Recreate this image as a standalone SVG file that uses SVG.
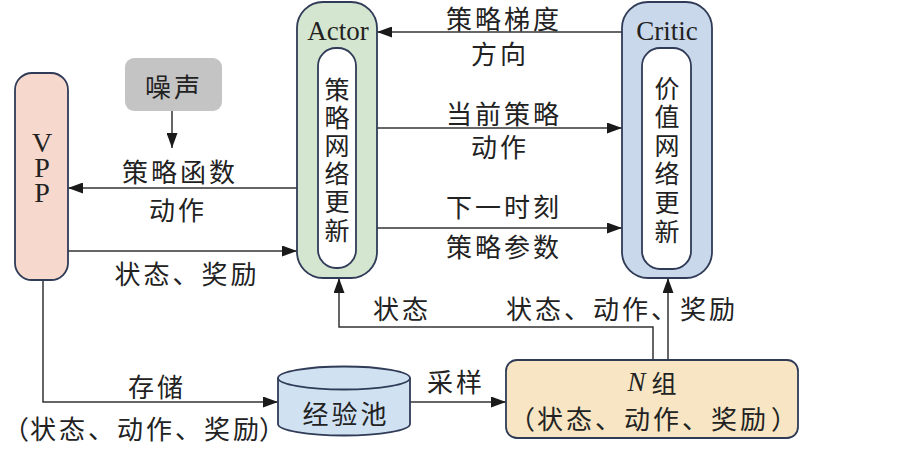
<svg xmlns="http://www.w3.org/2000/svg" width="910" height="472" viewBox="0 0 910 472">
<defs>
<marker id="ah" viewBox="0 0 15 11" refX="15" refY="5.5" markerWidth="15" markerHeight="11" markerUnits="userSpaceOnUse" orient="auto">
<path d="M0,0 L15,5.5 L0,11 Z" fill="#1a1a1a"/>
</marker>
<style>
.box{stroke:#2f3b57;stroke-width:1.8}
.cn{font-family:"Noto Sans CJK SC",sans-serif;font-size:26px;fill:#222;letter-spacing:3px}
.cv{font-family:"Noto Sans CJK SC",sans-serif;font-size:25px;fill:#222}
.lat{font-family:"Liberation Serif",serif;fill:#222}
.arr{fill:none;stroke:#333;stroke-width:1.5;marker-end:url(#ah)}
</style>
</defs>
<rect width="910" height="472" fill="#fff"/>

<g id="connectors">
<line class="arr" x1="172" y1="111" x2="172" y2="148"/>
<line class="arr" x1="297" y1="188" x2="68" y2="188"/>
<line class="arr" x1="68" y1="251" x2="297" y2="251"/>
<line class="arr" x1="622" y1="32" x2="377" y2="32"/>
<line class="arr" x1="377" y1="128" x2="622" y2="128"/>
<line class="arr" x1="377" y1="228" x2="622" y2="228"/>
<polyline class="arr" points="43,280 43,402 278,402"/>
<line class="arr" x1="410" y1="402" x2="506" y2="402"/>
<polyline class="arr" points="653,360 653,327 339,327 339,278"/>
<line class="arr" x1="668" y1="360" x2="668" y2="278"/>
<text class="cn" x="180" y="170" text-anchor="middle" dominant-baseline="central">策略函数</text>
<text class="cn" x="178" y="208" text-anchor="middle" dominant-baseline="central">动作</text>
<text class="cn" x="187" y="272" text-anchor="middle" dominant-baseline="central">状态、奖励</text>
<text class="cn" x="504" y="17" text-anchor="middle" dominant-baseline="central">策略梯度</text>
<text class="cn" x="500" y="52" text-anchor="middle" dominant-baseline="central">方向</text>
<text class="cn" x="504" y="112" text-anchor="middle" dominant-baseline="central">当前策略</text>
<text class="cn" x="500" y="145" text-anchor="middle" dominant-baseline="central">动作</text>
<text class="cn" x="504" y="205" text-anchor="middle" dominant-baseline="central">下一时刻</text>
<text class="cn" x="504" y="245" text-anchor="middle" dominant-baseline="central">策略参数</text>
<text class="cn" x="402" y="307" text-anchor="middle" dominant-baseline="central">状态</text>
<text class="cn" x="506" y="307" dominant-baseline="central">状态、动作、奖励</text>
<text class="cn" x="157" y="385" text-anchor="middle" dominant-baseline="central">存储</text>
<text class="cn" y="427" dominant-baseline="central"><tspan x="3">（</tspan><tspan x="30">状态、动作、奖励</tspan><tspan x="259">）</tspan></text>
<text class="cn" x="456" y="380" text-anchor="middle" dominant-baseline="central">采样</text>
</g>

<g id="noise">
<rect x="125" y="58" width="97" height="53" rx="9" fill="#c4c4c4"/>
<text class="cn" x="174" y="85" text-anchor="middle" dominant-baseline="central">噪声</text>
</g>

<g id="vpp">
<rect class="box" x="15" y="73" width="53" height="207" rx="17" fill="#f6d9cc"/>
<text class="lat" font-size="28" text-anchor="middle"><tspan x="42" y="152">V</tspan><tspan x="42" y="177">P</tspan><tspan x="42" y="202">P</tspan></text>
</g>

<g id="actor">
<rect class="box" x="297" y="2" width="80" height="276" rx="26" fill="#d4e6d0"/>
<text class="lat" font-size="27" x="338" y="40" text-anchor="middle">Actor</text>
<rect class="box" x="318" y="48" width="38" height="220" rx="18" fill="#fff"/>
<text class="cv" text-anchor="middle" dominant-baseline="central"><tspan x="337" y="88">策</tspan><tspan x="337" y="116">略</tspan><tspan x="337" y="144">网</tspan><tspan x="337" y="172">络</tspan><tspan x="337" y="200">更</tspan><tspan x="337" y="229">新</tspan></text>
</g>

<g id="critic">
<rect class="box" x="622" y="2" width="90" height="276" rx="26" fill="#cad8ec"/>
<text class="lat" font-size="27" x="667" y="40" text-anchor="middle">Critic</text>
<rect class="box" x="642" y="48" width="49" height="221" rx="18" fill="#fff"/>
<text class="cv" text-anchor="middle" dominant-baseline="central"><tspan x="667" y="87">价</tspan><tspan x="667" y="115">值</tspan><tspan x="667" y="144">网</tspan><tspan x="667" y="172">络</tspan><tspan x="667" y="201">更</tspan><tspan x="667" y="230">新</tspan></text>
</g>

<g id="pool">
<path class="box" d="M278,378 L278,424 A66,11.5 0 0 0 410,424 L410,378" fill="#d0e1f2"/>
<ellipse class="box" cx="344" cy="378" rx="66" ry="11.5" fill="#d0e1f2"/>
<text class="cn" x="346" y="412" text-anchor="middle" dominant-baseline="central">经验池</text>
</g>

<g id="ngroup">
<rect class="box" x="506" y="360" width="292" height="78" rx="11" fill="#f7e5c3"/>
<text x="652" y="382" text-anchor="middle" dominant-baseline="central"><tspan class="lat" font-size="27" font-style="italic">N</tspan><tspan class="cv" dx="6" font-size="26">组</tspan></text>
<text class="cn" y="417" dominant-baseline="central"><tspan x="509">（</tspan><tspan x="537">状态、动作、奖励</tspan><tspan x="771">）</tspan></text>
</g>
</svg>
